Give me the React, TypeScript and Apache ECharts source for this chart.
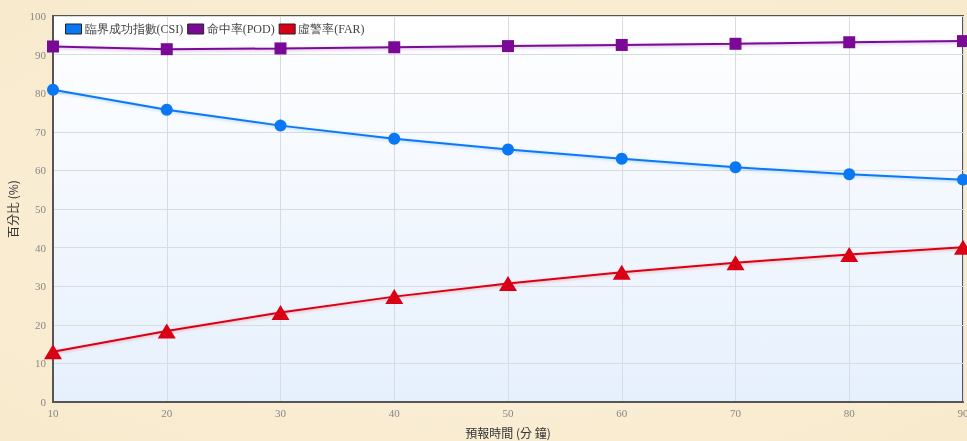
import React, { useEffect, useRef } from "react";
import * as echarts from "echarts";

// Forecast lead time (minutes)
const leadTimes = [10, 20, 30, 40, 50, 60, 70, 80, 90];
// Critical success index
const csiValues = [80.9, 75.7, 71.6, 68.2, 65.4, 63.0, 60.8, 59.0, 57.6];
// Probability of detection
const podValues = [92.1, 91.4, 91.6, 91.9, 92.2, 92.5, 92.8, 93.2, 93.5];
// False alarm ratio
const farValues = [13.0, 18.4, 23.2, 27.3, 30.7, 33.6, 36.1, 38.2, 40.1];

const seriesNames = ["臨界成功指數(CSI)", "命中率(POD)", "虛警率(FAR)"];

const toPairs = (vals: number[]) => leadTimes.map((t, i) => [t, vals[i]]);

export default function App() {
  const ref = useRef<HTMLDivElement>(null);

  useEffect(() => {
    if (!ref.current) return;
    const chart = echarts.init(ref.current, undefined, { renderer: "svg" });
    const serif = "'Liberation Serif', 'Times New Roman', serif";
    const cjk = "'Noto Sans CJK TC', sans-serif";
    chart.setOption({
      animation: false,
      backgroundColor: {
        type: "radial",
        x: 0.5,
        y: 0.5,
        r: 0.8,
        colorStops: [
          { offset: 0, color: "#fcf3df" },
          { offset: 1, color: "#f7e8c9" },
        ],
      },
      legend: {
        left: 60,
        top: 18,
        itemWidth: 16,
        itemHeight: 10,
        itemGap: 4,
        icon: "rect",
        textStyle: { fontFamily: serif, fontSize: 12, color: "#444", padding: [0, 0, 0, -2] },
        data: seriesNames.map((n) => ({
          name: n,
          itemStyle: { borderColor: "#222", borderWidth: 1 },
        })),
      },
      grid: {
        left: 53,
        right: 4,
        top: 16,
        bottom: 39,
        outerBoundsMode: "none",
        containLabel: false,
        show: true,
        borderColor: "#555",
        borderWidth: 2,
        backgroundColor: {
          type: "linear",
          x: 0,
          y: 0,
          x2: 0,
          y2: 1,
          colorStops: [
            { offset: 0, color: "#ffffff" },
            { offset: 1, color: "#e6f0fd" },
          ],
        },
      },
      xAxis: {
        type: "value",
        min: 10,
        max: 90,
        interval: 10,
        name: "預報時間 (分 鐘)",
        nameLocation: "middle",
        nameGap: 24,
        nameTextStyle: { fontSize: 12, color: "#333", fontFamily: cjk },
        axisLine: { show: true, lineStyle: { color: "#555", width: 2 } },
        axisTick: { show: false },
        axisLabel: { color: "#888", fontFamily: serif, fontSize: 11, margin: 5 },
        splitLine: { show: true, lineStyle: { color: "#d8dce2", width: 1 } },
      },
      yAxis: {
        type: "value",
        min: 0,
        max: 100,
        interval: 10,
        name: "百分比 (%)",
        nameLocation: "middle",
        nameGap: 31,
        nameTextStyle: { fontSize: 12, color: "#333", fontFamily: cjk },
        axisLine: { show: true, lineStyle: { color: "#555", width: 2 } },
        axisTick: { show: false },
        axisLabel: { color: "#888", fontFamily: serif, fontSize: 11, margin: 7 },
        splitLine: { show: true, lineStyle: { color: "#d8dce2", width: 1 } },
      },
      series: [
        {
          name: seriesNames[0],
          type: "line",
          data: toPairs(csiValues),
          symbol: "circle",
          symbolSize: 12,
          color: "#0a78f5",
          lineStyle: { width: 2, shadowColor: "rgba(10,120,245,0.3)", shadowBlur: 3, shadowOffsetY: 1 },
        },
        {
          name: seriesNames[1],
          type: "line",
          data: toPairs(podValues),
          symbol: "rect",
          symbolSize: 12,
          color: "#7a0a96",
          lineStyle: { width: 2, shadowColor: "rgba(122,10,150,0.3)", shadowBlur: 3, shadowOffsetY: 1 },
        },
        {
          name: seriesNames[2],
          type: "line",
          data: toPairs(farValues),
          symbol: "triangle",
          symbolSize: [18, 15],
          color: "#d90015",
          lineStyle: { width: 2, shadowColor: "rgba(217,0,21,0.3)", shadowBlur: 3, shadowOffsetY: 1 },
        },
      ],
    });
    return () => chart.dispose();
  }, []);

  return (
    <div
      ref={ref}
      style={{ position: "fixed", left: 0, top: 0, width: 967, height: 441 }}
    />
  );
}
